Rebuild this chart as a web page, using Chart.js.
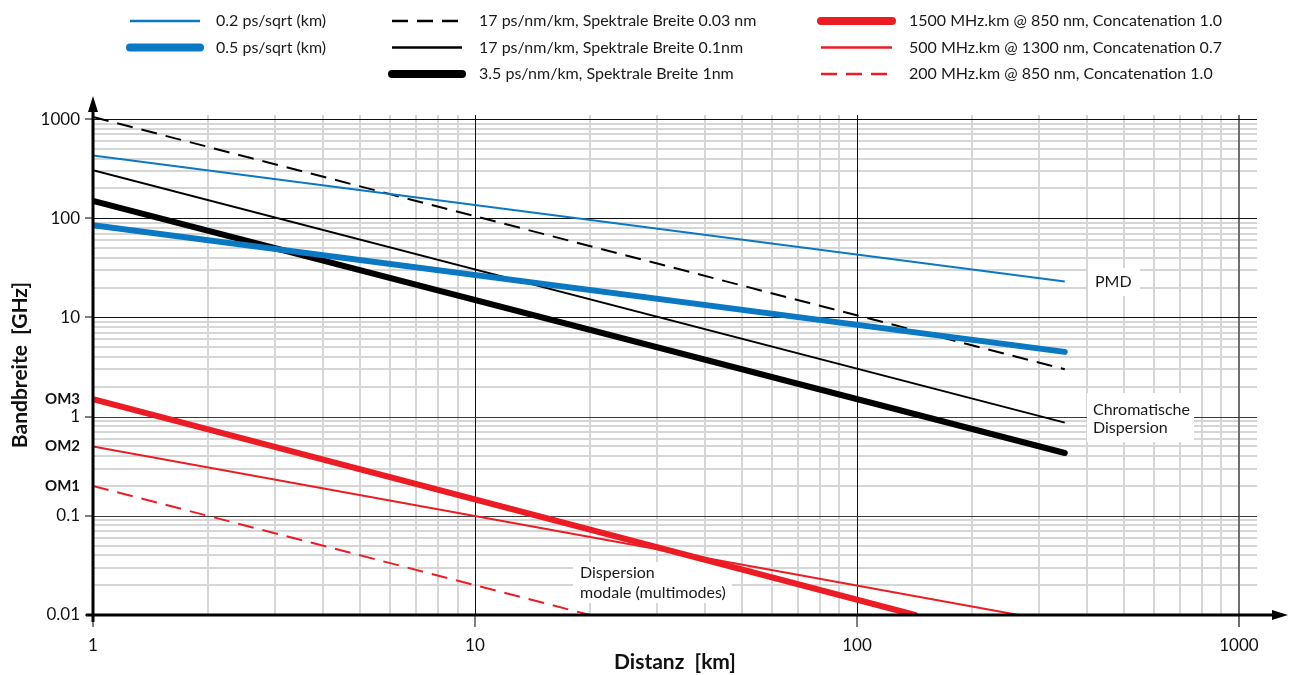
<!DOCTYPE html>
<html>
<head>
<meta charset="utf-8">
<script src="https://cdn.jsdelivr.net/npm/chart.js@4.4.1/dist/chart.umd.min.js"></script>
<style>
  html, body { margin: 0; padding: 0; background: #fff; }
  #wrap { width: 1293px; height: 675px; }
</style>
</head>
<body>
<div id="wrap"><canvas id="bwChart"></canvas></div>
<script>
// ---- data (log-log, straight lines so two points each) ----
const seriesLabels = [
  '0.2 ps/sqrt (km)',
  '0.5 ps/sqrt (km)',
  '17 ps/nm/km, Spektrale Breite 0.03 nm',
  '17 ps/nm/km, Spektrale Breite 0.1nm',
  '3.5 ps/nm/km, Spektrale Breite 1nm',
  '1500 MHz.km @ 850 nm, Concatenation 1.0',
  '500 MHz.km @ 1300 nm, Concatenation 0.7',
  '200 MHz.km @ 850 nm, Concatenation 1.0'
];
const pmd02 = [{ x: 1, y: 430 }, { x: 350, y: 23 }];
const pmd05 = [{ x: 1, y: 85 }, { x: 350, y: 4.5 }];
const cd17_003 = [{ x: 1, y: 1050 }, { x: 350, y: 3 }];
const cd17_01 = [{ x: 1, y: 305 }, { x: 350, y: 0.87 }];
const cd35_1 = [{ x: 1, y: 150 }, { x: 350, y: 0.43 }];
const om3 = [{ x: 1, y: 1.5 }, { x: 142, y: 0.01 }];
const om2 = [{ x: 1, y: 0.5 }, { x: 265, y: 0.01 }];
const om1 = [{ x: 1, y: 0.2 }, { x: 20, y: 0.01 }];

const xMajorTicks = [1, 10, 100, 1000];
const yMajorTicks = [0.01, 0.1, 1, 10, 100, 1000];
const yFiberTicks = { 1.5: 'OM3', 0.5: 'OM2', 0.2: 'OM1' };

const annotations = [
  { lines: ['PMD'], box: [1088, 268, 1140, 296], textX: 1095, lineY: [282] },
  { lines: ['Chromatische', 'Dispersion'], box: [1087, 393, 1194, 442], textX: 1093, lineY: [410, 428] },
  { lines: ['Dispersion', 'modale (multimodes)'], box: [573, 562, 732, 603], textX: 580, lineY: [573, 593] }
];

const FONT = 'Lato, "Open Sans", sans-serif';
const BLUE = '#0a78c2';
const RED = '#ec1c24';
const CLEAR = 'rgba(0,0,0,0)';

// all 1..9 multiples per decade, used for minor grid lines
function decadeSteps(from, to) {
  const out = [];
  for (let e = from; e <= to; e++) {
    for (let m = 1; m <= 9; m++) out.push(+(m * Math.pow(10, e)).toPrecision(3));
  }
  return out;
}
const isMajor = v => Math.abs(Math.log10(v) - Math.round(Math.log10(v))) < 1e-9;

const legendColumns = [
  { idx: [0, 1], x0: 130, x1: 200, tx: 216 },
  { idx: [2, 3, 4], x0: 392, x1: 462, tx: 479 },
  { idx: [5, 6, 7], x0: 821, x1: 892, tx: 909 }
];

const columnLegend = {
  id: 'columnLegend',
  afterDraw(chart) {
    const ctx = chart.ctx;
    ctx.save();
    ctx.font = '16px ' + FONT;
    ctx.textBaseline = 'middle';
    ctx.fillStyle = '#1a1a1a';
    legendColumns.forEach(col => {
      col.idx.forEach((di, row) => {
        const ds = chart.data.datasets[di];
        const y = 21 + row * 26.5;
        ctx.beginPath();
        ctx.strokeStyle = ds.borderColor;
        ctx.lineWidth = ds.borderWidth > 3 ? 8 : 2.5;
        ctx.lineCap = ds.borderWidth > 3 ? 'round' : 'butt';
        ctx.setLineDash(ds.borderDash || []);
        ctx.moveTo(col.x0, y);
        ctx.lineTo(col.x1, y);
        ctx.stroke();
        ctx.setLineDash([]);
        ctx.fillText(ds.label, col.tx, y);
      });
    });
    ctx.restore();
  }
};

// decade lines drawn on top of the light minor grid
const majorGrid = {
  id: 'majorGrid',
  beforeDatasetsDraw(chart) {
    const { ctx, chartArea, scales } = chart;
    ctx.save();
    xMajorTicks.slice(1).forEach(v => {
      const px = Math.round(scales.x.getPixelForValue(v));
      ctx.strokeStyle = v === 1000 ? '#6e6e6e' : '#111';
      ctx.lineWidth = v === 1000 ? 2 : 1;
      const off = v === 1000 ? 0 : 0.5;
      ctx.beginPath();
      ctx.moveTo(px + off, chartArea.top);
      ctx.lineTo(px + off, chartArea.bottom);
      ctx.stroke();
    });
    yMajorTicks.slice(1).forEach(v => {
      const py = Math.round(scales.y.getPixelForValue(v)) + 0.5;
      ctx.strokeStyle = v < 5 ? '#3c3c3c' : '#111';
      ctx.lineWidth = 1;
      ctx.beginPath();
      ctx.moveTo(chartArea.left, py);
      ctx.lineTo(chartArea.right, py);
      ctx.stroke();
    });
    ctx.restore();
  }
};

const labelBoxes = {
  id: 'labelBoxes',
  beforeDatasetsDraw(chart) {
    const ctx = chart.ctx;
    ctx.save();
    ctx.font = '16px ' + FONT;
    ctx.textBaseline = 'middle';
    annotations.forEach(a => {
      ctx.fillStyle = '#fff';
      ctx.fillRect(a.box[0], a.box[1], a.box[2] - a.box[0], a.box[3] - a.box[1]);
      ctx.fillStyle = '#1a1a1a';
      a.lines.forEach((t, i) => ctx.fillText(t, a.textX, a.lineY[i]));
    });
    ctx.restore();
  }
};

const arrowAxes = {
  id: 'arrowAxes',
  afterDatasetsDraw(chart) {
    const { ctx, chartArea } = chart;
    const l = chartArea.left, b = chartArea.bottom;
    ctx.save();
    ctx.strokeStyle = '#000';
    ctx.fillStyle = '#000';
    ctx.lineWidth = 3;
    ctx.beginPath();
    ctx.moveTo(l, b + 7);
    ctx.lineTo(l, 108);
    ctx.moveTo(l - 7, b);
    ctx.lineTo(1276, b);
    ctx.stroke();
    ctx.beginPath();
    ctx.moveTo(l, 96); ctx.lineTo(l - 5, 112); ctx.lineTo(l + 5, 112); ctx.closePath();
    ctx.moveTo(1288, b); ctx.lineTo(1272, b - 5); ctx.lineTo(1272, b + 5); ctx.closePath();
    ctx.fill();
    ctx.restore();
  }
};

function lineSet(i, data, color, width, dash) {
  return {
    label: seriesLabels[i],
    data: data,
    borderColor: color,
    borderWidth: width,
    borderDash: dash || [],
    borderCapStyle: width > 3 ? 'round' : 'butt',
    pointRadius: 0,
    fill: false,
    tension: 0
  };
}

new Chart(document.getElementById('bwChart'), {
  type: 'line',
  data: {
    datasets: [
      lineSet(0, pmd02, BLUE, 2),
      lineSet(1, pmd05, BLUE, 6),
      lineSet(2, cd17_003, '#000', 2, [16, 9]),
      lineSet(3, cd17_01, '#000', 2),
      lineSet(4, cd35_1, '#000', 6),
      lineSet(5, om3, RED, 6),
      lineSet(6, om2, RED, 2),
      lineSet(7, om1, RED, 2, [16, 9])
    ]
  },
  options: {
    responsive: true,
    maintainAspectRatio: false,
    animation: false,
    devicePixelRatio: 1,
    layout: { padding: { top: 115, right: 36, left: 0, bottom: 0 } },
    plugins: {
      legend: { display: false },
      tooltip: { enabled: false }
    },
    scales: {
      x: {
        type: 'logarithmic',
        min: 1,
        max: 1115,
        afterBuildTicks: s => { s.ticks = decadeSteps(0, 2).concat([1000]).map(v => ({ value: v })); },
        afterFit: s => { s.height = 60; },
        border: { display: false },
        grid: {
          color: c => isMajor(c.tick.value) ? CLEAR : '#d6d6d6',
          lineWidth: 2,
          tickColor: c => xMajorTicks.includes(c.tick.value) ? (c.tick.value === 1000 ? '#6e6e6e' : '#000') : CLEAR,
          tickWidth: c => c.tick.value === 1000 ? 2 : 1,
          tickLength: 12
        },
        ticks: {
          autoSkip: false,
          maxRotation: 0,
          padding: 8,
          color: '#111',
          font: { family: FONT, size: 17 },
          callback: v => xMajorTicks.includes(v) ? String(v) : ''
        },
        title: {
          display: true,
          text: 'Distanz  [km]',
          color: '#111',
          font: { family: FONT, size: 21, weight: 'bold' },
          padding: { top: 0, bottom: 0 }
        }
      },
      y: {
        type: 'logarithmic',
        min: 0.01,
        max: 1100,
        afterBuildTicks: s => { s.ticks = decadeSteps(-2, 2).concat([1000, 1.5]).map(v => ({ value: v })); },
        afterFit: s => { s.width = 93; },
        border: { display: false },
        grid: {
          color: c => (c.tick.value === 1.5 || isMajor(c.tick.value)) ? CLEAR : '#d6d6d6',
          lineWidth: 2,
          tickColor: c => yMajorTicks.includes(c.tick.value) ? '#000' : CLEAR,
          tickWidth: 1,
          tickLength: 8
        },
        ticks: {
          autoSkip: false,
          padding: 5,
          color: '#111',
          font: c => (c.tick && yFiberTicks[c.tick.value])
            ? { family: FONT, size: 15, weight: 'bold' }
            : { family: FONT, size: 17 },
          callback: v => yFiberTicks[v] || (yMajorTicks.includes(v) ? String(v) : '')
        },
        title: {
          display: true,
          text: 'Bandbreite  [GHz]',
          color: '#111',
          font: { family: FONT, size: 21, weight: 'bold' },
          padding: { top: 8, bottom: 0 }
        }
      }
    }
  },
  plugins: [columnLegend, majorGrid, labelBoxes, arrowAxes]
});
</script>
</body>
</html>
